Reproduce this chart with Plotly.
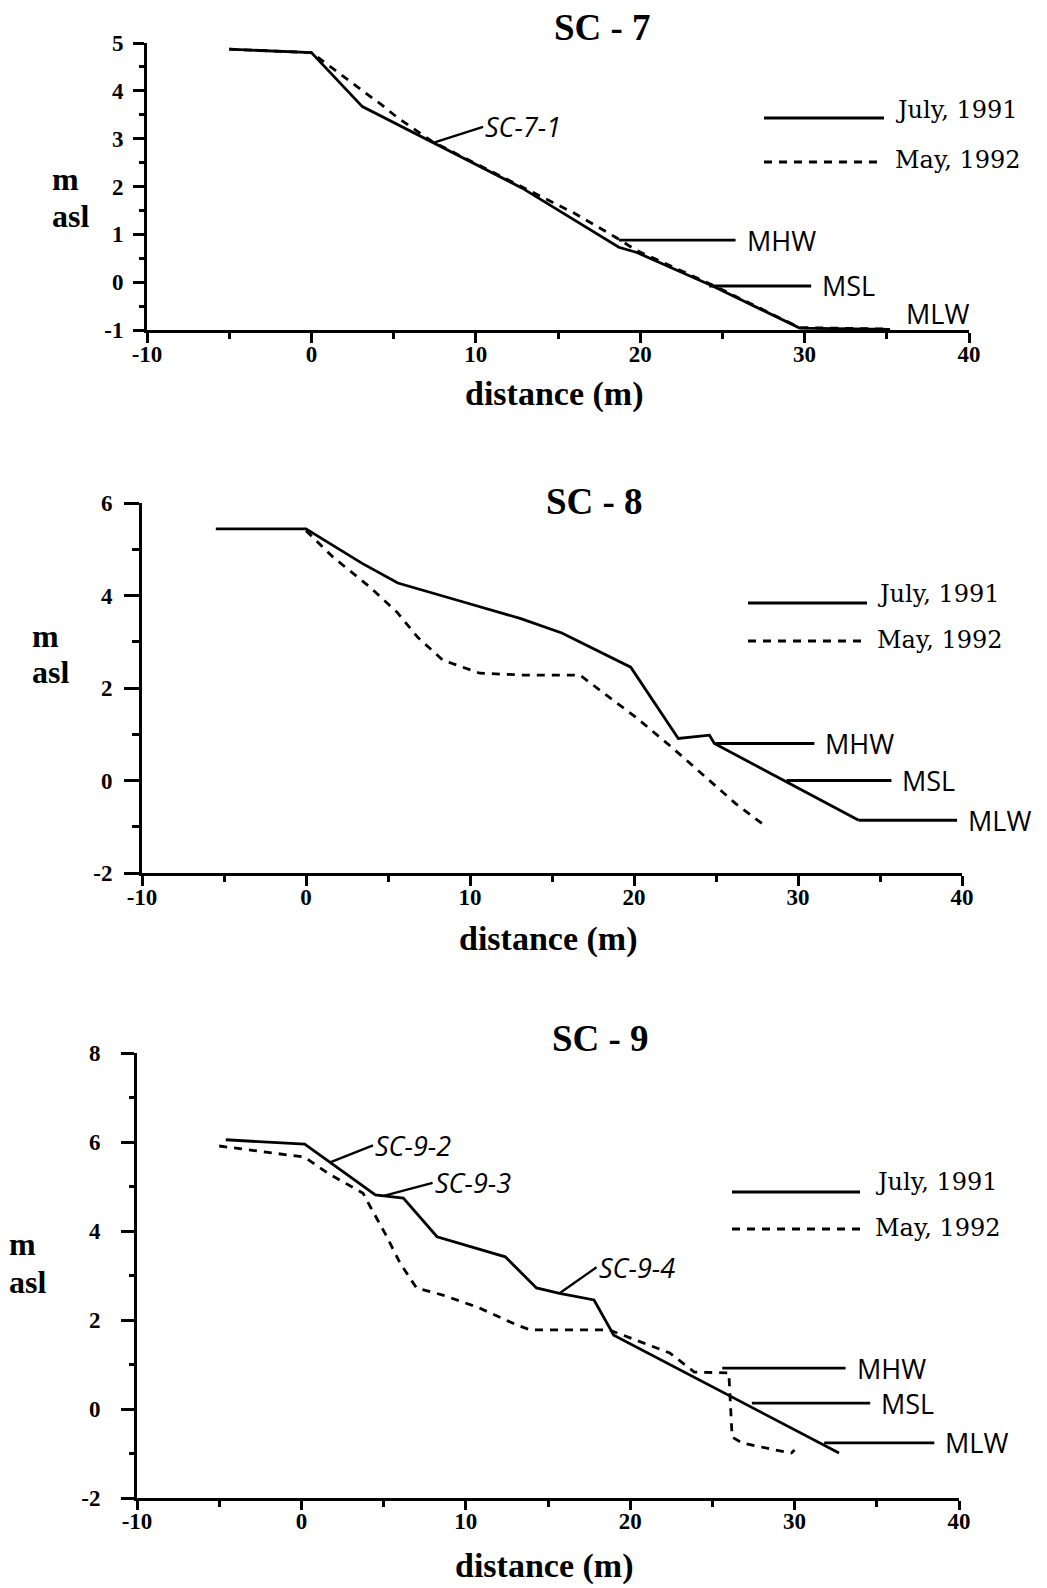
import numpy as np
import plotly.graph_objects as go

W, H = 1047, 1588

# ---------------- data ----------------
x_ticks = [-10, 0, 10, 20, 30, 40]

# SC-7
sc7_july_x = [-5.0, 0.0, 3.1, 7.4, 12.8, 18.7, 19.8, 24.4, 29.7, 35.2]
sc7_july_y = [4.87, 4.80, 3.67, 2.91, 1.97, 0.73, 0.62, -0.08, -0.96, -0.99]
sc7_may_x = [-5.0, 0.0, 4.3, 5.2, 7.4, 12.8, 16.0, 18.5, 19.8, 24.4, 29.7, 35.2]
sc7_may_y = [4.87, 4.80, 3.70, 3.45, 2.93, 1.99, 1.44, 0.94, 0.66, -0.06, -0.95, -0.98]
sc7_y_ticks = [-1, 0, 1, 2, 3, 4, 5]
sc7_tide_names = ["MHW", "MSL", "MLW"]
sc7_tide_levels = [0.88, -0.08, -1.0]
sc7_tide_x0 = [18.7, 24.2, 36.3]
sc7_tide_x1 = [25.8, 30.4, 36.3]
sc7_station_names = ["SC-7-1"]
sc7_station_x = [7.4]

# SC-8
sc8_july_x = [-5.5, 0.0, 3.4, 5.6, 9.6, 13.1, 15.6, 19.8, 22.7, 24.6, 24.9, 33.7]
sc8_july_y = [5.44, 5.44, 4.70, 4.27, 3.86, 3.50, 3.19, 2.45, 0.91, 0.98, 0.80, -0.86]
sc8_may_x = [0.0, 1.65, 3.9, 5.55, 6.8, 8.35, 10.6, 13.2, 16.7, 18.5, 20.1, 22.3, 24.6, 26.2, 27.8]
sc8_may_y = [5.40, 4.83, 4.18, 3.64, 3.10, 2.60, 2.32, 2.28, 2.28, 1.80, 1.37, 0.72, 0.0, -0.50, -0.93]
sc8_y_ticks = [-2, 0, 2, 4, 6]
sc8_tide_names = ["MHW", "MSL", "MLW"]
sc8_tide_levels = [0.80, 0.0, -0.86]
sc8_tide_x0 = [24.9, 29.3, 33.7]
sc8_tide_x1 = [31.0, 35.7, 39.7]
sc8_station_names = []
sc8_station_x = []

# SC-9
sc9_july_x = [-4.6, 0.2, 4.5, 6.2, 8.25, 12.4, 14.3, 15.7, 17.8, 19.0, 32.7]
sc9_july_y = [6.05, 5.95, 4.81, 4.74, 3.87, 3.42, 2.72, 2.60, 2.45, 1.66, -0.99]
sc9_may_x = [-5.0, 0.2, 1.6, 3.75, 4.2, 5.2, 6.0, 7.0, 8.6, 10.7, 13.1, 13.9, 18.7,
             22.4, 23.9, 26.0, 26.2, 26.8, 28.8, 29.8, 30.0]
sc9_may_y = [5.91, 5.66, 5.30, 4.85, 4.54, 3.87, 3.28, 2.72, 2.56, 2.29, 1.89, 1.78, 1.78,
             1.26, 0.83, 0.81, -0.63, -0.76, -0.92, -0.99, -0.92]
sc9_y_ticks = [-2, 0, 2, 4, 6, 8]
sc9_tide_names = ["MHW", "MSL", "MLW"]
sc9_tide_levels = [0.92, 0.13, -0.76]
sc9_tide_x0 = [25.6, 27.4, 31.8]
sc9_tide_x1 = [33.1, 34.6, 38.5]
sc9_station_names = ["SC-9-2", "SC-9-3", "SC-9-4"]
sc9_station_x = [1.74, 5.0, 15.7]

legend_labels = ["July, 1991", "May, 1992"]

# ---------------- layout specs (pixels) ----------------
SERIF = "Liberation Serif"
LEGSERIF = "DejaVu Serif"
SANS = "Open Sans"
BLACK = "black"
LW = 2.8
DASH = "8px,7px"


def px(x):
    return x / W


def py(y):
    return 1 - y / H


def lab(v):
    return str(v)  # plain hyphen-minus as in the original


panels = [
    dict(title="SC - 7", jx=sc7_july_x, jy=sc7_july_y, mx=sc7_may_x, my=sc7_may_y,
         yt=sc7_y_ticks,
         tn=sc7_tide_names, tl=sc7_tide_levels, t0=sc7_tide_x0, t1=sc7_tide_x1,
         sn=sc7_station_names, sx=sc7_station_x, st_off=[(50, -16)],
         xpx=(147, 969), ypx=(43, 330), yr=[-1, 5], ymin=0.5,
         yticklen=11, yminlen=5, ystand=5, xticklen=10,
         title_c=(602, 27), m_y=179, asl_y=216, lab_x=50, dist_y=394,
         leg=dict(x0=764, x1=884, ys=118, yd=162, tx=893, tys=110, tyd=160)),
    dict(title="SC - 8", jx=sc8_july_x, jy=sc8_july_y, mx=sc8_may_x, my=sc8_may_y,
         yt=sc8_y_ticks,
         tn=sc8_tide_names, tl=sc8_tide_levels, t0=sc8_tide_x0, t1=sc8_tide_x1,
         sn=sc8_station_names, sx=sc8_station_x, st_off=[],
         xpx=(142, 962), ypx=(503, 873), yr=[-2, 6], ymin=1,
         yticklen=15, yminlen=7, ystand=7, xticklen=10,
         title_c=(594, 501), m_y=636, asl_y=672, lab_x=30, dist_y=939,
         leg=dict(x0=748, x1=867, ys=603, yd=641, tx=875, tys=594, tyd=640)),
    dict(title="SC - 9", jx=sc9_july_x, jy=sc9_july_y, mx=sc9_may_x, my=sc9_may_y,
         yt=sc9_y_ticks,
         tn=sc9_tide_names, tl=sc9_tide_levels, t0=sc9_tide_x0, t1=sc9_tide_x1,
         sn=sc9_station_names, sx=sc9_station_x, st_off=[(43, -17), (49, -13), (37, -26)],
         xpx=(137, 959), ypx=(1053, 1498), yr=[-2, 8], ymin=1,
         yticklen=13, yminlen=5, ystand=16, xticklen=9,
         title_c=(600, 1038), m_y=1244, asl_y=1282, lab_x=7, dist_y=1566,
         leg=dict(x0=732, x1=860, ys=1192, yd=1229, tx=873, tys=1182, tyd=1228)),
]

fig = go.Figure()
annotations = []
shapes = []
layout = {}

for i, p in enumerate(panels, start=1):
    sfx = "" if i == 1 else str(i)
    xa, ya = "x" + sfx, "y" + sfx

    # May 1992 (dashed) below, July 1991 (solid) on top
    fig.add_trace(go.Scatter(x=p["mx"], y=p["my"], mode="lines", xaxis=xa, yaxis=ya,
                             line=dict(color=BLACK, width=LW, dash=DASH), showlegend=False,
                             hoverinfo="skip"))
    fig.add_trace(go.Scatter(x=p["jx"], y=p["jy"], mode="lines", xaxis=xa, yaxis=ya,
                             line=dict(color=BLACK, width=LW), showlegend=False,
                             hoverinfo="skip"))

    # tide level lines + labels
    for name, lvl, x0, x1 in zip(p["tn"], p["tl"], p["t0"], p["t1"]):
        has_line = x1 > x0
        if has_line:
            fig.add_trace(go.Scatter(x=[x0, x1], y=[lvl, lvl], mode="lines", xaxis=xa, yaxis=ya,
                                     line=dict(color=BLACK, width=LW), showlegend=False,
                                     hoverinfo="skip"))
        annotations.append(dict(
            x=x1, y=lvl, xref=xa, yref=ya, text=name, showarrow=False,
            xanchor="left", yanchor="middle",
            xshift=9 if has_line else -4, yshift=0 if has_line else 17,
            font=dict(family=SANS, size=27, color=BLACK)))

    # station labels with leader lines
    if p["sx"]:
        st_y = np.interp(p["sx"], p["jx"], p["jy"])
        for name, sxv, syv, (ox, oy) in zip(p["sn"], p["sx"], st_y, p["st_off"]):
            annotations.append(dict(
                x=sxv, y=float(syv), xref=xa, yref=ya, text=name, showarrow=True,
                ax=ox, ay=oy, arrowhead=0, arrowwidth=2.3, arrowcolor=BLACK, standoff=0,
                xanchor="left", yanchor="middle",
                font=dict(family=SANS, size=27, color=BLACK, style="italic")))

    # axes
    x0p, x1p = p["xpx"]
    ytop, ybot = p["ypx"]
    tickfont = dict(family=SERIF, size=23, color=BLACK, weight="bold")
    layout["xaxis" + sfx] = dict(
        domain=[px(x0p), px(x1p)], anchor=ya, range=[-10, 40], automargin=False,
        tickmode="array", tickvals=x_ticks, ticktext=[lab(v) for v in x_ticks],
        showline=True, linecolor=BLACK, linewidth=3, ticks="outside",
        ticklen=p["xticklen"], tickwidth=2.5, tickcolor=BLACK,
        minor=dict(ticks="outside", dtick=5, ticklen=6, tickwidth=2.5, tickcolor=BLACK),
        ticklabelstandoff=-9,
        showgrid=False, zeroline=False, tickfont=tickfont, fixedrange=True)
    layout["yaxis" + sfx] = dict(
        domain=[py(ybot), py(ytop)], anchor=xa, range=p["yr"], automargin=False,
        tickmode="array", tickvals=p["yt"], ticktext=[lab(v) for v in p["yt"]],
        showline=True, linecolor=BLACK, linewidth=3, ticks="outside",
        ticklen=p["yticklen"], tickwidth=2.5, tickcolor=BLACK,
        minor=dict(ticks="outside", dtick=p["ymin"], tick0=0, ticklen=p["yminlen"],
                   tickwidth=2.5, tickcolor=BLACK),
        ticklabelstandoff=p["ystand"],
        showgrid=False, zeroline=False, tickfont=tickfont, fixedrange=True)

    # title
    tcx, tcy = p["title_c"]
    annotations.append(dict(x=px(tcx), y=py(tcy), xref="paper", yref="paper", text=p["title"],
                            showarrow=False, xanchor="center", yanchor="middle",
                            font=dict(family=SERIF, size=37, color=BLACK, weight="bold")))
    # y label
    annotations.append(dict(x=px(p["lab_x"]), y=py(p["m_y"]), xref="paper", yref="paper",
                            text="m", showarrow=False, xanchor="left", yanchor="middle",
                            font=dict(family=SERIF, size=32, color=BLACK, weight="bold")))
    annotations.append(dict(x=px(p["lab_x"]), y=py(p["asl_y"]), xref="paper", yref="paper",
                            text="asl", showarrow=False, xanchor="left", yanchor="middle",
                            font=dict(family=SERIF, size=32, color=BLACK, weight="bold")))
    # x label
    annotations.append(dict(x=px((x0p + x1p) / 2 - 4), y=py(p["dist_y"]), xref="paper", yref="paper",
                            text="distance (m)", showarrow=False, xanchor="center", yanchor="middle",
                            font=dict(family=SERIF, size=34, color=BLACK, weight="bold")))

    # legend (manual)
    lg = p["leg"]
    shapes.append(dict(type="line", xref="paper", yref="paper",
                       x0=px(lg["x0"]), x1=px(lg["x1"]), y0=py(lg["ys"]), y1=py(lg["ys"]),
                       line=dict(color=BLACK, width=LW)))
    shapes.append(dict(type="line", xref="paper", yref="paper",
                       x0=px(lg["x0"]), x1=px(lg["x1"]), y0=py(lg["yd"]), y1=py(lg["yd"]),
                       line=dict(color=BLACK, width=LW, dash=DASH)))
    annotations.append(dict(x=px(lg["tx"]), y=py(lg["tys"]), xref="paper", yref="paper",
                            text=legend_labels[0], showarrow=False, xanchor="left", yanchor="middle",
                            font=dict(family=LEGSERIF, size=24, color=BLACK)))
    annotations.append(dict(x=px(lg["tx"]), y=py(lg["tyd"]), xref="paper", yref="paper",
                            text=legend_labels[1], showarrow=False, xanchor="left", yanchor="middle",
                            font=dict(family=LEGSERIF, size=24, color=BLACK)))

fig.update_layout(
    width=W, height=H,
    margin=dict(l=0, r=0, t=0, b=0, pad=0, autoexpand=False),
    paper_bgcolor="white", plot_bgcolor="white",
    showlegend=False,
    annotations=annotations,
    shapes=shapes,
    **layout,
)

fig.write_html(
    "out.html",
    config={"displayModeBar": False},
    post_script="document.body.style.margin='0';document.body.style.overflow='hidden';",
)
